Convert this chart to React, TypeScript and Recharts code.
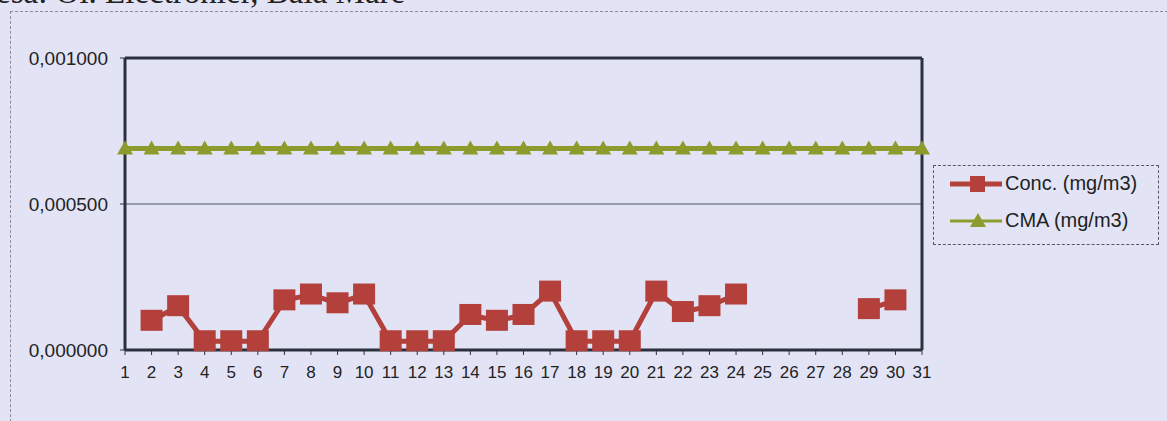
import React from "react";
import { LineChart, Line, XAxis, YAxis, ReferenceLine } from "recharts";

const days = Array.from({ length: 31 }, (_, i) => String(i + 1));
const concValues: (number | null)[] = [
  null, 0.0001, 0.00015, 0.00003, 0.00003, 0.00003, 0.00017, 0.00019, 0.00016, 0.00019,
  0.00003, 0.00003, 0.00003, 0.00012, 0.0001, 0.00012, 0.0002, 0.00003, 0.00003, 0.00003,
  0.0002, 0.00013, 0.00015, 0.00019, null, null, null, null, 0.00014, 0.00017, null,
];
const cmaValues: number[] = Array(31).fill(0.00069);
const yTicks = [0, 0.0005, 0.001];

const data = days.map((d, i) => ({ day: d, conc: concValues[i], cma: cmaValues[i] }));

const RED = "#b3403a";
const GREEN = "#8d9b2d";
const AXIS = "#2c303c";
const FONT = "'Liberation Sans', Arial, sans-serif";

const fmt = (v: number) => v.toFixed(6).replace(".", ",");

const SquareDot = (props: any) => {
  const { cx, cy, payload } = props;
  if (cy == null || payload.conc == null) return <g key={props.key} />;
  return <rect key={props.key} x={cx - 11} y={cy - 11} width={22} height={21} fill={RED} />;
};

const TriDot = (props: any) => {
  const { cx, cy } = props;
  if (cy == null) return <g key={props.key} />;
  return (
    <polygon
      key={props.key}
      points={`${cx},${cy - 8} ${cx + 8},${cy + 6} ${cx - 8},${cy + 6}`}
      fill={GREEN}
    />
  );
};

export default function App() {
  return (
    <div
      style={{
        position: "absolute",
        left: 0,
        top: 0,
        width: 1167,
        height: 421,
        background: "#e2e4f6",
        overflow: "hidden",
      }}
    >
      <div
        style={{
          position: "absolute",
          left: -4,
          top: -26,
          fontFamily: "'Liberation Serif', 'Times New Roman', serif",
          fontSize: 33,
          color: "#222",
          whiteSpace: "nowrap",
        }}
      >
        esa: Ol. Electronier, Baia Mare
      </div>
      <div
        style={{
          position: "absolute",
          left: 10,
          top: 11,
          width: 1157,
          height: 410,
          borderTop: "1px dashed #8a8c98",
          borderLeft: "1px dashed #8a8c98",
        }}
      />
      <div style={{ position: "absolute", left: 0, top: 0 }}>
        <LineChart
          width={1167}
          height={421}
          data={data}
          margin={{ top: 58, right: 245, left: 0, bottom: 0 }}
        >
          <XAxis
            dataKey="day"
            height={71}
            interval={0}
            axisLine={{ stroke: AXIS, strokeWidth: 3 }}
            tickLine={{ stroke: AXIS, strokeWidth: 1 }}
            tickSize={5}
            tickMargin={11}
            tick={{ fill: "#222", fontSize: 17, fontFamily: FONT }}
          />
          <YAxis
            width={125}
            domain={[0, 0.001]}
            ticks={yTicks}
            tickFormatter={fmt}
            axisLine={{ stroke: AXIS, strokeWidth: 3 }}
            tickLine={{ stroke: AXIS, strokeWidth: 1 }}
            tickSize={5}
            tickMargin={12}
            tick={{ fill: "#222", fontSize: 19, fontFamily: FONT }}
          />
          <ReferenceLine y={0.0005} stroke="#4e5363" strokeWidth={1} />
          <ReferenceLine y={0.001} stroke={AXIS} strokeWidth={3} />
          <ReferenceLine x="31" stroke={AXIS} strokeWidth={3} />
          <Line
            dataKey="cma"
            stroke={GREEN}
            strokeWidth={5}
            dot={<TriDot />}
            isAnimationActive={false}
          />
          <Line
            dataKey="conc"
            stroke={RED}
            strokeWidth={5}
            dot={<SquareDot />}
            connectNulls={false}
            isAnimationActive={false}
          />
        </LineChart>
      </div>
      <div
        style={{
          position: "absolute",
          left: 933,
          top: 165,
          width: 224,
          height: 78,
          border: "1px dashed #55575f",
          fontFamily: FONT,
          fontSize: 20,
          color: "#222",
        }}
      >
        <div style={{ position: "absolute", left: 14, top: 6, display: "flex", alignItems: "center" }}>
          <svg width={56} height={22}>
            <line x1={2} y1={11} x2={54} y2={11} stroke={RED} strokeWidth={5} />
            <rect x={22} y={3} width={15} height={16} fill={RED} />
          </svg>
          <span style={{ marginLeft: 1 }}>Conc. (mg/m3)</span>
        </div>
        <div style={{ position: "absolute", left: 14, top: 43, display: "flex", alignItems: "center" }}>
          <svg width={56} height={22}>
            <line x1={2} y1={11} x2={54} y2={11} stroke={GREEN} strokeWidth={3} />
            <polygon points="30,3 38,17 22,17" fill={GREEN} />
          </svg>
          <span style={{ marginLeft: 1 }}>CMA (mg/m3)</span>
        </div>
      </div>
    </div>
  );
}
